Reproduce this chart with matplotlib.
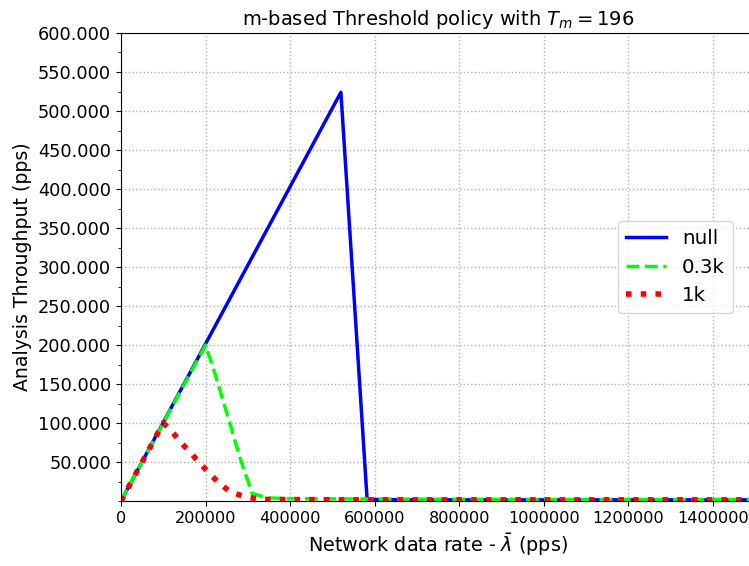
import numpy as np
import matplotlib.pyplot as plt
from matplotlib.ticker import MultipleLocator, FormatStrFormatter

# Throughput vs. network data rate for three thresholds
rate_null = [0, 520000, 582000, 700000, 1000000, 1500000]
thr_null = [0, 524, 2, 1.5, 1.5, 1.5]

rate_03k = [0, 200000, 222000, 250000, 281000, 310000, 345000, 400000, 600000, 1000000, 1500000]
thr_03k = [0, 200, 164, 113, 56, 10, 4, 3, 2.5, 2, 2]

rate_1k = [0, 100000, 118000, 140000, 163000, 184000, 208000, 232000, 258000, 290000, 330000, 600000, 1500000]
thr_1k = [0, 100, 91, 76, 63, 50, 36, 23, 12, 6, 2, 1.5, 1.5]

fig = plt.figure(figsize=(7.49, 5.66), dpi=100)
ax = fig.add_axes([0.1615, 0.1148, 0.847, 0.8269])

ax.plot(rate_null, thr_null, color='blue', lw=2.5, ls='-', label='null')
ax.plot(rate_03k, thr_03k, color='lime', lw=2.5, ls='--', label='0.3k')
ax.plot(rate_1k, thr_1k, color='red', lw=4, ls=':', label='1k')

ax.set_xlim(0, 1500000)
ax.set_ylim(0, 600)
ax.set_yticks(np.arange(50, 601, 50))
ax.yaxis.set_major_formatter(FormatStrFormatter('%.3f'))
ax.yaxis.set_minor_locator(MultipleLocator(25))
ax.set_xticks(np.arange(0, 1400001, 200000))
ax.ticklabel_format(axis='x', style='plain')
ax.tick_params(axis='y', labelsize=12.8)
ax.tick_params(axis='x', labelsize=11.6)
ax.grid(True, ls=':', color='#b0b0b0', lw=1)

ax.set_title('m-based Threshold policy with $T_m = 196$', fontsize=14)
ax.set_xlabel(r'Network data rate - $\bar{\lambda}$ (pps)', fontsize=13.8)
ax.set_ylabel('Analysis Throughput (pps)', fontsize=13.6)

ax.legend(loc='center right', bbox_to_anchor=(0.98, 0.5), fontsize=14.3)

fig.savefig('out.png', dpi=100)
